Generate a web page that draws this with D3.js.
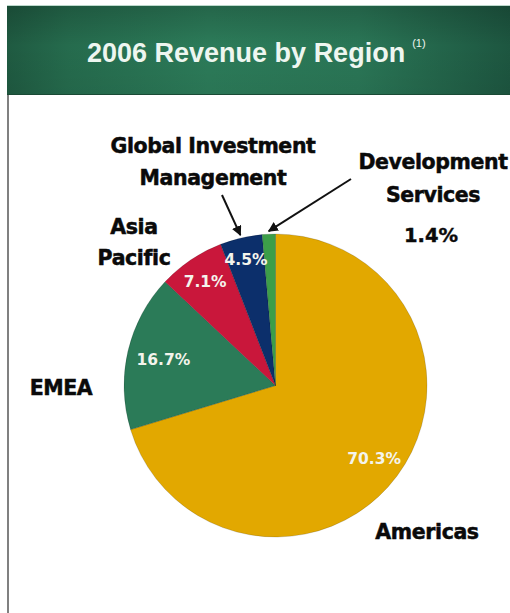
<!DOCTYPE html>
<html>
<head>
<meta charset="utf-8">
<script src="https://cdn.jsdelivr.net/npm/d3@7"></script>
<style>
  html, body { margin: 0; padding: 0; background: #ffffff; }
  svg { display: block; }
</style>
</head>
<body>
<svg id="chart" width="510" height="613"></svg>
<script>
// Revenue share by region, 2006 (percent of total)
const categories = ["Americas", "EMEA", "Asia Pacific", "Global Investment Management", "Development Services"];
const values = [70.3, 16.7, 7.1, 4.5, 1.4];
const sliceColors = ["#e2a800", "#2b7b58", "#c9173b", "#0c2f6b", "#3c9e49"];
const valueLabels = ["70.3%", "16.7%", "7.1%", "4.5%", "1.4%"];

const W = 510, H = 613;
const svg = d3.select("#chart");
const defs = svg.append("defs");

// ---- header band -------------------------------------------------------
const hg = defs.append("linearGradient").attr("id", "hdrH").attr("x1", "0").attr("x2", "1").attr("y1", "0").attr("y2", "0");
[["0%", "#1f5a41"], ["12%", "#256b4d"], ["40%", "#2c7b59"], ["70%", "#2a7656"], ["100%", "#1d5640"]]
  .forEach(([o, c]) => hg.append("stop").attr("offset", o).attr("stop-color", c));
const vg = defs.append("linearGradient").attr("id", "hdrV").attr("x1", "0").attr("x2", "0").attr("y1", "0").attr("y2", "1");
[["0%", "#000", 0.18], ["45%", "#000", 0.0], ["100%", "#000", 0.05]]
  .forEach(([o, c, a]) => vg.append("stop").attr("offset", o).attr("stop-color", c).attr("stop-opacity", a));

const hdr = { x: 7, y: 5, w: W - 7, h: 90 };
svg.append("rect").attr("x", hdr.x).attr("y", hdr.y).attr("width", hdr.w).attr("height", hdr.h).attr("fill", "url(#hdrH)");
svg.append("rect").attr("x", hdr.x).attr("y", hdr.y).attr("width", hdr.w).attr("height", hdr.h).attr("fill", "url(#hdrV)");
svg.append("line").attr("x1", hdr.x).attr("x2", W).attr("y1", hdr.y + 0.5).attr("y2", hdr.y + 0.5)
  .attr("stroke", "#bcd9cc").attr("stroke-width", 1);
svg.append("line").attr("x1", hdr.x).attr("x2", W).attr("y1", hdr.y + hdr.h - 0.5).attr("y2", hdr.y + hdr.h - 0.5)
  .attr("stroke", "#1a4a35").attr("stroke-width", 1.2);

// left frame rule below the header
svg.append("line").attr("x1", 8).attr("x2", 8).attr("y1", hdr.y + hdr.h).attr("y2", H)
  .attr("stroke", "#808080").attr("stroke-width", 2);

const title = svg.append("text").attr("x", 87).attr("y", 62)
  .attr("font-family", "'Liberation Sans', Arial, sans-serif").attr("font-weight", "bold")
  .attr("font-size", 27).attr("fill", "#eef6f0");
title.append("tspan").text("2006 Revenue by Region");
title.append("tspan").attr("dx", 7).attr("dy", -15).attr("font-size", 11).attr("font-weight", "normal").text("(1)");

// ---- pie ----------------------------------------------------------------
const cx = 275.5, cy = 385.5, R = 151.5;
const data = categories.map((c, i) => ({ category: c, value: values[i], color: sliceColors[i], label: valueLabels[i] }));

const pie = d3.pie().value(d => d.value).sort(null).startAngle(0).endAngle(2 * Math.PI);
const arcs = pie(data);
const arc = d3.arc().innerRadius(0).outerRadius(R);

const g = svg.append("g").attr("transform", `translate(${cx},${cy})`);
g.selectAll("path.slice").data(arcs).join("path")
  .attr("class", "slice")
  .attr("d", arc)
  .attr("fill", d => d.data.color)
  .attr("stroke", "rgba(0,0,0,0.25)")
  .attr("stroke-width", 0.6);

// value labels inside the slices (the smallest slice is labelled outside)
const labelRadius = { "Americas": 0.81, "EMEA": 0.76, "Asia Pacific": 0.83, "Global Investment Management": 0.855 };
g.selectAll("text.pct").data(arcs.filter(d => labelRadius[d.data.category] !== undefined)).join("text")
  .attr("class", "pct")
  .attr("transform", d => {
    const rr = R * labelRadius[d.data.category];
    const a = (d.startAngle + d.endAngle) / 2;
    return `translate(${rr * Math.sin(a)},${-rr * Math.cos(a)})`;
  })
  .attr("text-anchor", "middle").attr("dy", "0.36em")
  .attr("font-family", "'DejaVu Sans', sans-serif").attr("font-weight", "bold")
  .attr("font-size", 15.5).attr("fill", "#f4f4ec")
  .text(d => d.data.label);

// ---- category labels ----------------------------------------------------
const font = "'DejaVu Sans', sans-serif";
const catLabels = [
  { lines: ["Global Investment", "Management"], x: 213, y: [153, 185] },
  { lines: ["Development", "Services"], x: 433, y: [169, 202] },
  { lines: ["Asia", "Pacific"], x: 134, y: [234, 265] },
  { lines: ["EMEA"], x: 61, y: [395] },
  { lines: ["Americas"], x: 427, y: [539] }
];
catLabels.forEach(l => {
  l.lines.forEach((t, i) => {
    svg.append("text").attr("x", l.x).attr("y", l.y[i]).attr("text-anchor", "middle")
      .attr("font-family", font).attr("font-weight", "bold").attr("font-size", 20.5)
      .attr("letter-spacing", -0.4).attr("fill", "#0a0a0a")
      .attr("stroke", "#0a0a0a").attr("stroke-width", 0.5).text(t);
  });
});

// value of the smallest slice, placed under its name
const dev = arcs[4];
svg.append("text").attr("x", 431).attr("y", 242).attr("text-anchor", "middle")
  .attr("font-family", font).attr("font-weight", "bold").attr("font-size", 19.5)
  .attr("fill", "#0a0a0a").attr("stroke", "#0a0a0a").attr("stroke-width", 0.4).text(dev.data.label);

// ---- leader arrows to the thin slices ----------------------------------
defs.append("marker").attr("id", "head").attr("viewBox", "0 0 10 10")
  .attr("refX", 9).attr("refY", 5).attr("markerWidth", 5).attr("markerHeight", 5)
  .attr("markerUnits", "strokeWidth").attr("orient", "auto")
  .append("path").attr("d", "M0,0 L10,5 L0,10 Z").attr("fill", "#111");

const edgePoint = (d, pad) => {
  const a = (d.startAngle + d.endAngle) / 2;
  return [cx + (R + pad) * Math.sin(a), cy - (R + pad) * Math.cos(a)];
};
const arrows = [
  { from: [222, 195], to: edgePoint(arcs[3], 3) },
  { from: [351, 179], to: edgePoint(arcs[4], 3) }
];
svg.selectAll("line.leader").data(arrows).join("line")
  .attr("class", "leader")
  .attr("x1", d => d.from[0]).attr("y1", d => d.from[1])
  .attr("x2", d => d.to[0]).attr("y2", d => d.to[1])
  .attr("stroke", "#111").attr("stroke-width", 2)
  .attr("marker-end", "url(#head)");
</script>
</body>
</html>
